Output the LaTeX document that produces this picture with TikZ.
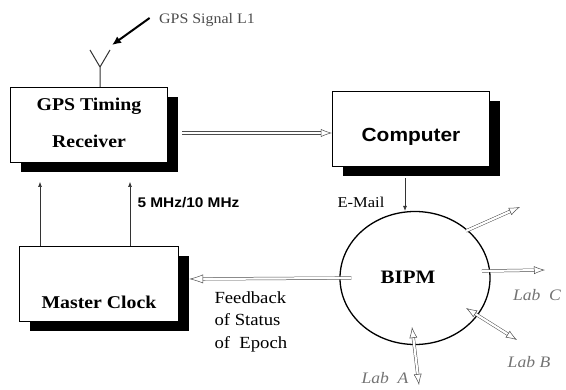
\documentclass[tikz,border=0pt]{standalone}
\usepackage{fontspec}
\setmainfont{Liberation Serif}
\setsansfont{Liberation Sans}
\newfontfamily\wideserif[FakeStretch=1.1]{Liberation Serif}
\newfontfamily\widesans[FakeStretch=1.1]{Liberation Sans}
\usetikzlibrary{arrows.meta,shadows,shapes.geometric}
\begin{document}
\begin{tikzpicture}[x=1pt,y=-1pt,
  blockbox/.style={draw, line width=1.2pt, fill=white, minimum width=157pt, minimum height=75pt,
    drop shadow={shadow xshift=10pt, shadow yshift=-10pt, fill=black, opacity=1}},
  boxtext/.style={font=\wideserif\bfseries\fontsize{18}{22}\selectfont},
  thinarrow/.style={draw=black!80, line width=0.6pt, -{Latex[length=5pt,width=4pt]}},
  hollow/.style={draw=black!70, line width=0.5pt, double=white, double distance=2.2pt},
  labtext/.style={font=\wideserif\itshape\fontsize{16}{18}\selectfont, text=black!55}]
  \useasboundingbox (0,0) rectangle (566,390);
  % Bloques
  \node[blockbox] (recv) at (89,125) {};
  \node[boxtext] (recvA) at (89,106) {GPS Timing};
  \node[boxtext] (recvB) at (89,141) {Receiver};
  \node[blockbox] (comp) at (411,129) {};
  \node[font=\widesans\bfseries\fontsize{19}{22}\selectfont] (compA) at (411,137) {Computer};
  \node[blockbox, minimum width=159pt] (mc) at (99,284) {};
  \node[boxtext] (mcA) at (99,302) {Master Clock};
  \node[draw, shape=ellipse, line width=1.3pt, minimum width=150pt, minimum height=133pt, inner sep=0pt] (bipm) at (415,278) {};
  \node[boxtext, font=\wideserif\bfseries\fontsize{19}{22}\selectfont] (bipmA) at (408,277) {BIPM};
  % Antena
  \coordinate (ant) at (100,67);
  \coordinate (anttip) at (112,45);
  \draw[line width=1pt, black!80] ([xshift=11pt]recv.north) -- (ant) -- ++(-10,-17);
  \draw[line width=1pt, black!80] (ant) -- ++(10,-17);
  \node[font=\wideserif\fontsize{14.5}{16}\selectfont, text=black!70] (sig) at (207,20) {GPS Signal L1};
  \draw[line width=2pt, -{Latex[length=9pt,width=8pt]}] ([shift={(-6,-2)}]sig.west) -- (anttip);
  % Conexiones
  \draw[hollow, -{Latex[open,length=11pt,width=8pt]}] ([shift={(14,8)}]recv.east) -- ([yshift=-4pt]comp.west);
  \coordinate (r1) at (40,182);
  \coordinate (r2) at (130,182);
  \draw[thinarrow] (r1 |- mc.north) -- (r1);
  \draw[thinarrow] (r2 |- mc.north) -- (r2);
  \node[font=\widesans\bfseries\fontsize{14}{16}\selectfont, anchor=west] (freq) at (134,203) {5 MHz/10 MHz};
  \draw[thinarrow] ([shift={(-6,11)}]comp.south) -- ([xshift=-10pt]bipm.north);
  \node[font=\wideserif\fontsize{15}{18}\selectfont] (mail) at (361,202) {E-Mail};
  \draw[hollow, -{Latex[open,length=14pt,width=9pt]}] ([xshift=12pt]bipm.west) -- ([shift={(10,-5)}]mc.east);
  \node[font=\wideserif\fontsize{17}{22.5}\selectfont, align=left, anchor=north west] (fb) at (211,288)
    {Feedback\\of Status\\of~~Epoch};
  % Laboratorios
  \coordinate (l1a) at (466,231); \coordinate (l1b) at (520,207);
  \coordinate (l2a) at (482,271); \coordinate (l2b) at (545,270);
  \coordinate (l3a) at (466,308); \coordinate (l3b) at (517,340);
  \coordinate (l4a) at (412,327); \coordinate (l4b) at (419,385);
  \draw[hollow, -{Latex[open,length=11pt,width=8pt]}] (l1a) -- (l1b);
  \draw[hollow, -{Latex[open,length=11pt,width=8pt]}] (l2a) -- (l2b);
  \draw[hollow, {Latex[open,length=11pt,width=8pt]}-{Latex[open,length=11pt,width=8pt]}] (l3a) -- (l3b);
  \draw[hollow, {Latex[open,length=11pt,width=8pt]}-{Latex[open,length=11pt,width=8pt]}] (l4a) -- (l4b);
  \node[labtext] (labC) at (537,295) {Lab~~C};
  \node[labtext] (labB) at (529,362) {Lab B};
  \node[labtext] (labA) at (385,378) {Lab~~A};
\end{tikzpicture}
\end{document}
